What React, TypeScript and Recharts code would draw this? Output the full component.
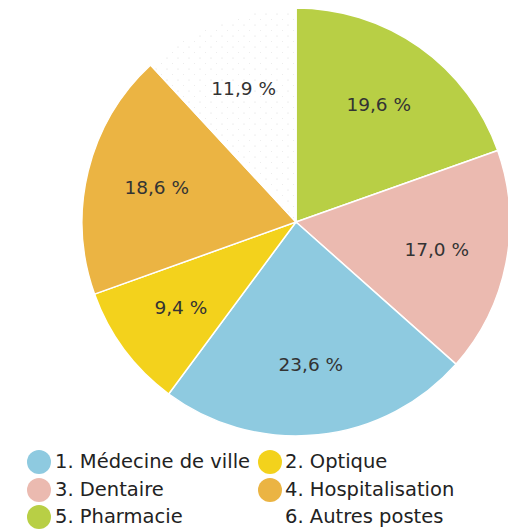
import { PieChart, Pie, Cell, Legend } from "recharts";

// slices are drawn clockwise from 12 o'clock
const sliceNames = [
  "5. Pharmacie",
  "3. Dentaire",
  "1. Médecine de ville",
  "2. Optique",
  "4. Hospitalisation",
  "6. Autres postes",
];
const sliceValues = [19.6, 17.0, 23.6, 9.4, 18.6, 11.9];
const sliceColors = ["#b8cf45", "#ebbab0", "#8ecae0", "#f3d21c", "#ebb443", "url(#dots)"];

// legend reads 1..6, two columns
const legendOrder = [
  "1. Médecine de ville",
  "2. Optique",
  "3. Dentaire",
  "4. Hospitalisation",
  "5. Pharmacie",
  "6. Autres postes",
];
const legendColors = ["#8ecae0", "#f3d21c", "#ebbab0", "#ebb443", "#b8cf45", "transparent"];

const data = sliceNames.map((name, i) => ({ name, value: sliceValues[i] }));

const RADIAN = Math.PI / 180;
const fmt = (v: number) => v.toFixed(1).replace(".", ",") + " %";

const renderLabel = (props: any) => {
  const { cx, cy, midAngle, outerRadius, value } = props;
  const r = outerRadius * 0.67;
  const x = cx + r * Math.cos(-midAngle * RADIAN);
  const y = cy + r * Math.sin(-midAngle * RADIAN);
  return (
    <text
      x={x}
      y={y}
      fill="#333"
      textAnchor="middle"
      dominantBaseline="central"
      fontFamily="DejaVu Sans"
      fontSize={18.5}
    >
      {fmt(value)}
    </text>
  );
};

const LegendBox = () => (
  <div style={{ position: "relative", width: 508, height: 86, fontFamily: "DejaVu Sans", fontSize: 19.5, color: "#222" }}>
    {legendOrder.map((name, i) => {
      const col = i % 2;
      const row = Math.floor(i / 2);
      const cx = col === 0 ? 39 : 270;
      const cy = 17 + row * 27.5;
      return (
        <div key={name}>
          <span
            style={{
              position: "absolute",
              left: cx - 12,
              top: cy - 12,
              width: 24,
              height: 24,
              borderRadius: 12,
              background: legendColors[i],
            }}
          />
          <span
            style={{
              position: "absolute",
              left: col === 0 ? 55 : 285,
              top: cy - 12,
              lineHeight: "24px",
              whiteSpace: "nowrap",
            }}
          >
            {name}
          </span>
        </div>
      );
    })}
  </div>
);

export default function App() {
  return (
    <div style={{ position: "absolute", left: 0, top: 0, width: 508, height: 531, background: "#fff" }}>
      <svg width={0} height={0} style={{ position: "absolute" }}>
        <defs>
          <pattern id="dots" width={11} height={11} patternUnits="userSpaceOnUse">
            <rect width={11} height={11} fill="#ffffff" />
            <circle cx={2} cy={3} r={0.6} fill="#dcdcdc" />
            <circle cx={7.5} cy={8.5} r={0.5} fill="#e6e6e6" />
          </pattern>
        </defs>
      </svg>
      <PieChart width={508} height={531} margin={{ top: 0, right: 0, bottom: 0, left: 0 }}>
        <Pie
          data={data}
          dataKey="value"
          nameKey="name"
          cx={296}
          cy={222}
          outerRadius={214}
          startAngle={90}
          endAngle={-270}
          stroke="#ffffff"
          strokeWidth={1.5}
          label={renderLabel}
          labelLine={false}
          isAnimationActive={false}
        >
          {data.map((d, i) => (
            <Cell key={d.name} fill={sliceColors[i]} />
          ))}
        </Pie>
        <Legend
          content={() => <LegendBox />}
          wrapperStyle={{ position: "absolute", left: 0, top: 445, width: 508, height: 86 }}
        />
      </PieChart>
    </div>
  );
}
